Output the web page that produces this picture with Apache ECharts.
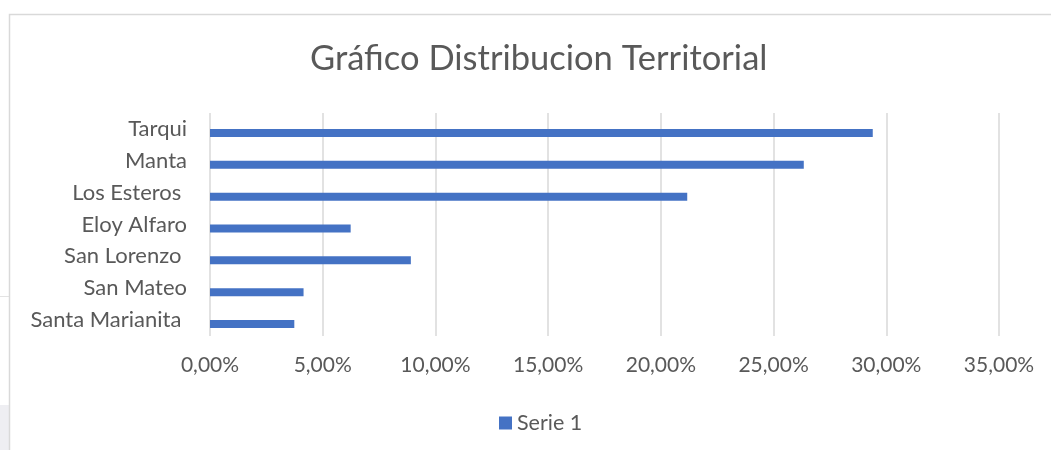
<!DOCTYPE html>
<html>
<head>
<meta charset="utf-8">
<script src="https://cdn.jsdelivr.net/npm/echarts@6/dist/echarts.min.js"></script>
<style>
html,body{margin:0;padding:0;background:#fff;}
#chart{width:1051px;height:450px;}
</style>
</head>
<body>
<div id="chart"></div>
<script>
const titleText = 'Gráfico Distribucion Territorial';
const categories = ['Tarqui', 'Manta', 'Los Esteros ', 'Eloy Alfaro', 'San Lorenzo ', 'San Mateo', 'Santa Marianita '];
const serie1 = [29.40, 26.34, 21.17, 6.24, 8.91, 4.15, 3.74];
const seriesName = 'Serie 1';
const emptySeries = [null, null, null, null, null, null, null];
const xMin = 0, xMax = 35, xStep = 5;

const FONT = 'Lato';
const chart = echarts.init(document.getElementById('chart'), null, {renderer: 'canvas'});
chart.setOption({
  animation: false,
  backgroundColor: '#ffffff',
  graphic: [
    {type: 'rect', shape: {x: 0, y: 405, width: 9, height: 50}, style: {fill: '#eeeef2'}, silent: true},
    {type: 'line', shape: {x1: 0, y1: 296.5, x2: 9, y2: 296.5}, style: {stroke: '#e3e3e3', lineWidth: 1}, silent: true},
    {type: 'rect', shape: {x: 9.5, y: 14.5, width: 1100, height: 500}, style: {fill: 'none', stroke: '#d9d9d9', lineWidth: 1.5}, silent: true}
  ],
  title: {
    text: titleText, left: 305, top: 36,
    textStyle: {fontFamily: FONT, fontSize: 34.5, fontWeight: 'normal', color: '#595959'}
  },
  legend: {
    data: [seriesName], left: 499, top: 412, padding: 0, itemWidth: 13, itemHeight: 13,
    textStyle: {fontFamily: FONT, fontSize: 21.5, color: '#595959'},
    icon: 'rect'
  },
  grid: {left: 210, right: 52, top: 113, bottom: 114, containLabel: false},
  xAxis: {
    type: 'value', min: xMin, max: xMax, interval: xStep,
    axisLine: {show: false}, axisTick: {show: false},
    splitLine: {show: true, lineStyle: {color: '#d9d9d9', width: 1.5}},
    axisLabel: {
      margin: 19, fontFamily: FONT, fontSize: 21, color: '#595959',
      formatter: v => v.toFixed(2).replace('.', ',') + '%'
    }
  },
  yAxis: {
    type: 'category', data: categories, inverse: true,
    axisLine: {show: false}, axisTick: {show: false},
    axisLabel: {margin: 23, fontFamily: FONT, fontSize: 22, color: '#595959'}
  },
  series: [
    {name: '', type: 'bar', data: emptySeries, barWidth: 8, barGap: '0%', itemStyle: {color: 'rgba(0,0,0,0)'}},
    {name: seriesName, type: 'bar', data: serie1, barWidth: 8, barGap: '0%', itemStyle: {color: '#4472C4'}}
  ]
});
</script>
</body>
</html>
